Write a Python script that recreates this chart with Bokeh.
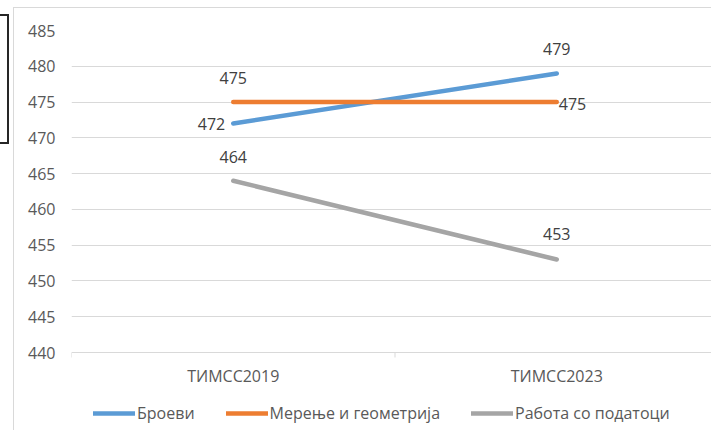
from bokeh.plotting import figure
from bokeh.models import FixedTicker, Legend, LegendItem
from bokeh.core.properties import value
from bokeh.embed import file_html
from bokeh.resources import INLINE

# ---- data ----
categories = ["ТИМСС2019", "ТИМСС2023"]
series_names = ["Броеви", "Мерење и геометрија", "Работа со податоци"]
broevi = [472, 479]
merenje = [475, 475]
rabota = [464, 453]
y_ticks = [440, 445, 450, 455, 460, 465, 470, 475, 480, 485]

# ---- style ----
colors = ["#5B9BD5", "#ED7D31", "#A5A5A5"]
FONT = "Open Sans"
FS = "16px"
GRID = "#d9d9d9"
TXT = "#595959"
LBL = "#404040"

series = [broevi, merenje, rabota]
# label placement per series per point: (align, x_offset, y_offset)
label_pos = [
    [("right", -8, 0), ("center", 0, -24)],
    [("center", 0, -24), ("left", 2, 2)],
    [("center", 0, -24), ("center", 0, -25)],
]

# ---- geometry (pixels) ----
W, H = 711, 430
TOP, LEFT, RIGHT = 22, 57, 7
PLOT_PX = 322            # pixel height of the 440..485 value band
frame_px = H - TOP       # frame runs down to the bottom so legend fits inside
upp = (y_ticks[-1] - y_ticks[0]) / PLOT_PX       # data units per pixel
y_bottom = y_ticks[-1] - frame_px * upp

x = [i + 0.5 for i in range(len(categories))]
bounds = list(range(len(categories) + 1))

frame_css = {
    "padding-left": "14px", "padding-top": "8px",
    "background-color": "white",
    "background-image": ", ".join(["linear-gradient(#262626,#262626)"] * 3
                                  + ["linear-gradient(#d9d9d9,#d9d9d9)"] * 2),
    "background-size": "9px 2px, 2px 130px, 9px 2px, 1px 100%, 100% 1px",
    "background-position": "0px 14px, 7px 14px, 0px 142px, 13px 7px, 13px 7px",
    "background-repeat": "no-repeat",
}

p = figure(width=W, height=H,
           x_range=(0, len(categories)), y_range=(y_bottom, y_ticks[-1]),
           output_backend="svg", toolbar_location=None,
           x_axis_location=None,
           min_border_left=LEFT, min_border_top=TOP, min_border_right=RIGHT,
           min_border_bottom=0, styles=frame_css)
p.outline_line_color = None
p.background_fill_color = "white"
p.border_fill_color = "white"

p.yaxis.ticker = FixedTicker(ticks=y_ticks)
p.yaxis.axis_line_color = None
p.yaxis.major_tick_line_color = None
p.yaxis.minor_tick_line_color = None
p.yaxis.major_tick_out = 0
p.yaxis.major_label_standoff = 16
p.yaxis.major_label_text_font = FONT
p.yaxis.major_label_text_font_size = FS
p.yaxis.major_label_text_color = TXT

p.xgrid.visible = False
p.ygrid.grid_line_color = GRID
p.ygrid.grid_line_width = 1
p.ygrid.ticker = FixedTicker(ticks=y_ticks)

# category axis: tick marks at category boundaries, labels at centres
p.segment(x0=bounds, y0=[y_ticks[0]] * len(bounds),
          x1=bounds, y1=[y_ticks[0] - 5 * upp] * len(bounds),
          line_color=GRID, line_width=1)
p.text(x=x, y=[y_ticks[0]] * len(x), text=categories, y_offset=23,
       text_align="center", text_baseline="middle",
       text_font=value(FONT), text_font_size=FS, text_color=TXT)

items = []
for name, vals, col in zip(series_names, series, colors):
    r = p.line(x, vals, line_color=col, line_width=4.5, line_cap="round")
    items.append(LegendItem(label=name, renderers=[r]))

for vals, poss in zip(series, label_pos):
    for xi, v, (al, xo, yo) in zip(x, vals, poss):
        p.text(x=[xi], y=[v], text=[str(v)], x_offset=xo, y_offset=yo,
               text_align=al, text_baseline="middle",
               text_font=value(FONT), text_font_size=FS, text_color=LBL)

legend = Legend(items=items, orientation="horizontal", location=(22, 14),
                padding=0, margin=0, spacing=31, label_standoff=2,
                glyph_width=42, glyph_height=20, label_height=20,
                border_line_color=None, background_fill_alpha=0,
                label_text_font=FONT, label_text_font_size=FS,
                label_text_color=TXT)
p.add_layout(legend, "center")

open("out.html", "w").write(file_html(p, INLINE))
